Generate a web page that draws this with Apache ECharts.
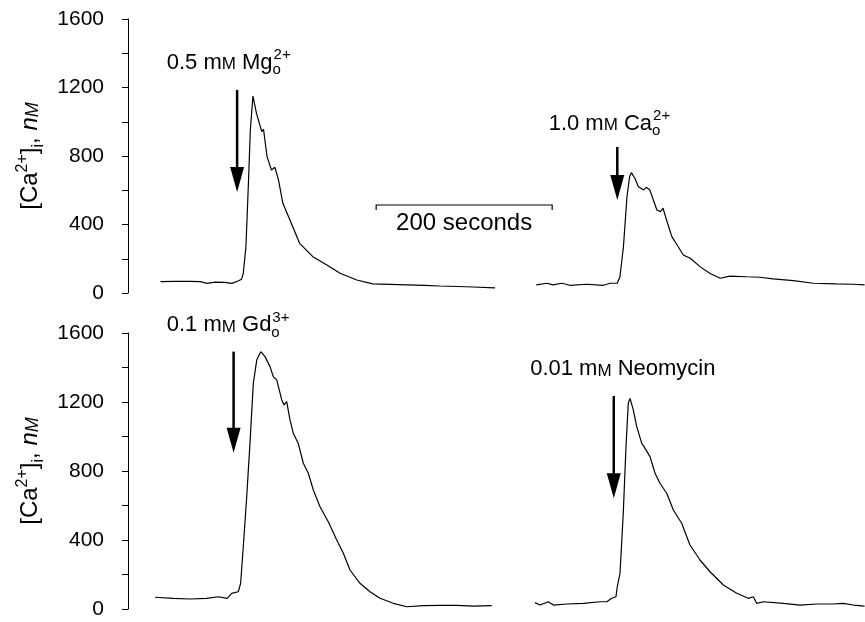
<!DOCTYPE html>
<html lang="en">
<head>
    <meta charset="UTF-8">
    <title>Ca traces</title>
    <style>
        body {
            margin: 0;
            padding: 0;
            background: #fff;
        }
        #chart {
            width: 865px;
            height: 622px;
        }
    </style>
</head>
<body>
<div id="chart"></div>
<script src="https://cdn.jsdelivr.net/npm/echarts@6/dist/echarts.min.js"></script>
<script>
    // time in seconds along the panel, [Ca2+]i in nM
    const mgTime = [37, 53, 70, 82, 90, 99, 110, 118, 125, 129, 131, 134, 137, 139, 142, 146, 152, 154, 158, 163, 167, 171, 176, 184, 195, 210, 226, 241, 260, 278, 298, 317, 337, 354, 375, 392, 417];
    const mgCa = [66, 68, 68, 66, 56, 63, 62, 56, 70, 80, 115, 270, 660, 952, 1150, 1049, 942, 956, 796, 718, 734, 660, 524, 426, 290, 212, 164, 115, 76, 53, 50, 47, 44, 41, 38, 35, 30];

    const caTime = [464, 476, 483, 493, 502, 521, 540, 548, 556, 559, 563, 567, 570, 572, 576, 580, 586, 589, 593, 597, 601, 605, 608, 612, 618, 624, 631, 639, 650, 661, 673, 684, 703, 718, 733, 756, 779, 805, 824, 837];
    const caCa = [47, 57, 47, 57, 45, 51, 45, 57, 57, 95, 270, 562, 679, 703, 670, 621, 602, 617, 602, 543, 485, 475, 495, 426, 329, 280, 222, 203, 154, 115, 86, 99, 95, 92, 82, 72, 57, 53, 51, 47];

    const gdTime = [30.7, 51.5, 70.5, 89.4, 102.6, 112.8, 117.8, 125.3, 128, 131, 134.9, 138.6, 142.4, 146.3, 150.8, 155.7, 161.4, 165.1, 169, 174.7, 177.3, 180.3, 184.1, 187.8, 193.5, 199.2, 204.9, 210.6, 218.2, 227.6, 237.2, 244.7, 252.3, 263.6, 275, 286.4, 301.5, 316.7, 335.6, 354.5, 373.5, 392.4, 413.3];
    const gdCa = [68, 62, 58, 62, 71, 62, 91, 100, 149, 361, 651, 960, 1308, 1443, 1492, 1463, 1405, 1347, 1328, 1212, 1183, 1202, 1096, 1019, 960, 845, 787, 690, 593, 506, 400, 323, 226, 149, 100, 62, 33, 13, 19, 21, 21, 17, 19];

    const neoTime = [462.5, 468.2, 477.6, 483.3, 498.5, 517.4, 536.4, 544, 549.7, 554.5, 556, 559.1, 562.8, 565.9, 568.5, 570.5, 574.2, 578.1, 583.8, 586.4, 588.6, 593.2, 598.9, 604.5, 612.2, 619.7, 629.2, 638.6, 650, 661.4, 676.5, 691.7, 704.9, 710.6, 714.4, 721.9, 744.7, 763.6, 782.6, 801.5, 812.8, 824.2, 837];
    const neoCa = [37, 23, 42, 23, 29, 33, 42, 42, 62, 71, 129, 207, 555, 941, 1192, 1221, 1154, 1057, 960, 941, 951, 883, 787, 729, 671, 574, 497, 371, 284, 216, 139, 91, 62, 71, 33, 42, 33, 23, 29, 29, 33, 23, 17];

    const yTicks = [0, 400, 800, 1200, 1600];

    // application arrows: panel, time, shaft top, tip (nM) and label anchor
    const arrowPanel = [0, 0, 1, 1];
    const arrowTime = [124, 556, 120, 552];
    const arrowTop = [1186, 853, 1492, 1235];
    const arrowTip = [590, 543, 906, 642];
    const labelTime = [44, 478, 44, 457];
    const labelValue = [1346, 990, 1646, 1391];
    const labelText = [
        '{t|0.5 m}{sc|M}{t| Mg}{sub|o}{sup|2+}',
        '{t|1.0 m}{sc|M}{t| Ca}{sub|o}{sup|2+}',
        '{t|0.1 m}{sc|M}{t| Gd}{sub|o}{sup|3+}',
        '{t|0.01 m}{sc|M}{t| Neomycin}'
    ];

    const scaleBarStart = 282;
    const scaleBarLength = 200;
    const scaleBarValue = 514;
    const scaleBarText = '200 seconds';

    const font = "'Liberation Sans', Arial, sans-serif";
    const chart = echarts.init(document.getElementById('chart'));

    const labelRich = {
        t: {fontSize: 22, fontFamily: font, color: '#000', lineHeight: 30},
        sc: {fontSize: 17, fontFamily: font, color: '#000', lineHeight: 30, padding: [4, 0, 0, 0]},
        sup: {fontSize: 15, fontFamily: font, color: '#000', lineHeight: 15, verticalAlign: 'top'},
        sub: {fontSize: 15, fontFamily: font, color: '#000', lineHeight: 15, verticalAlign: 'bottom', width: 1}
    };

    const zip = (xs, ys) => xs.map((x, i) => [x, ys[i]]);

    function yAxisFor(idx) {
        return {
            gridIndex: idx,
            type: 'value',
            min: yTicks[0],
            max: yTicks[yTicks.length - 1],
            interval: yTicks[1] - yTicks[0],
            name: '{b|[Ca}{sup|2+}{b|]}{sub|i}{b|, }{it|n}{itsc|M}',
            nameLocation: 'middle',
            nameRotate: 90,
            nameGap: 80,
            nameTextStyle: {
                rich: {
                    b: {fontSize: 24, fontFamily: font, color: '#000', lineHeight: 32},
                    sup: {fontSize: 16, fontFamily: font, color: '#000', lineHeight: 16, verticalAlign: 'top'},
                    sub: {fontSize: 16, fontFamily: font, color: '#000', lineHeight: 16, verticalAlign: 'bottom'},
                    it: {fontSize: 24, fontFamily: font, fontStyle: 'italic', color: '#000', lineHeight: 32},
                    itsc: {fontSize: 18, fontFamily: font, fontStyle: 'italic', color: '#000', lineHeight: 32, padding: [5, 0, 0, 0]}
                }
            },
            axisLine: {show: true, lineStyle: {color: '#000', width: 1}},
            axisTick: {show: true, inside: false, length: 6, lineStyle: {color: '#000'}},
            minorTick: {show: true, splitNumber: 2, length: 6, lineStyle: {color: '#000'}},
            splitLine: {show: false},
            axisLabel: {color: '#000', fontSize: 21, fontFamily: font, margin: 24, formatter: v => String(v)}
        };
    }

    function xAxisFor(idx) {
        return {gridIndex: idx, type: 'value', min: 0, max: 837.5, show: false};
    }

    function trace(idx, xs, ys) {
        return {
            type: 'line',
            xAxisIndex: idx,
            yAxisIndex: idx,
            data: zip(xs, ys),
            showSymbol: false,
            symbol: 'none',
            lineStyle: {color: '#000', width: 1.2},
            animation: false
        };
    }

    function renderArrow(params, api) {
        const i = api.value(5);
        const top = api.coord([api.value(0), api.value(1)]);
        const tip = api.coord([api.value(0), api.value(2)]);
        const lab = api.coord([api.value(3), api.value(4)]);
        const headLen = 25, headHalf = 7;
        return {
            type: 'group',
            children: [
                {
                    type: 'line',
                    shape: {x1: top[0], y1: top[1], x2: tip[0], y2: tip[1] - headLen + 2},
                    style: {stroke: '#000', lineWidth: 2.5}
                },
                {
                    type: 'polygon',
                    shape: {points: [[tip[0] - headHalf, tip[1] - headLen], [tip[0] + headHalf, tip[1] - headLen], [tip[0], tip[1]]]},
                    style: {fill: '#000'}
                },
                {
                    type: 'text',
                    x: lab[0],
                    y: lab[1],
                    style: {
                        text: labelText[i],
                        rich: labelRich,
                        align: 'left',
                        verticalAlign: 'middle'
                    }
                }
            ]
        };
    }

    function renderScaleBar(params, api) {
        const a = api.coord([api.value(0), api.value(1)]);
        const b = api.coord([api.value(2), api.value(1)]);
        return {
            type: 'group',
            children: [
                {
                    type: 'polyline',
                    shape: {points: [[a[0], a[1] + 5], [a[0], a[1]], [b[0], b[1]], [b[0], b[1] + 5]]},
                    style: {stroke: '#000', lineWidth: 1.2, fill: null}
                },
                {
                    type: 'text',
                    x: (a[0] + b[0]) / 2,
                    y: a[1] + 18,
                    style: {text: scaleBarText, fontSize: 24, fontFamily: font, fill: '#000', align: 'center', verticalAlign: 'middle'}
                }
            ]
        };
    }

    const arrowSeries = [0, 1].map(p => ({
        type: 'custom',
        xAxisIndex: p,
        yAxisIndex: p,
        clip: false,
        silent: true,
        animation: false,
        data: arrowTime.map((t, i) => [t, arrowTop[i], arrowTip[i], labelTime[i], labelValue[i], i])
            .filter((row, i) => arrowPanel[i] === p),
        renderItem: renderArrow
    }));

    const option = {
        backgroundColor: '#fff',
        animation: false,
        grid: [
            {left: 128, right: 0, top: 19, height: 274},
            {left: 128, right: 0, top: 333, height: 276}
        ],
        xAxis: [xAxisFor(0), xAxisFor(1)],
        yAxis: [yAxisFor(0), yAxisFor(1)],
        series: [
            trace(0, mgTime, mgCa),
            trace(0, caTime, caCa),
            trace(1, gdTime, gdCa),
            trace(1, neoTime, neoCa),
            ...arrowSeries,
            {
                type: 'custom',
                xAxisIndex: 0,
                yAxisIndex: 0,
                clip: false,
                silent: true,
                animation: false,
                data: [[scaleBarStart, scaleBarValue, scaleBarStart + scaleBarLength]],
                renderItem: renderScaleBar
            }
        ]
    };

    chart.setOption(option);
</script>
</body>
</html>
